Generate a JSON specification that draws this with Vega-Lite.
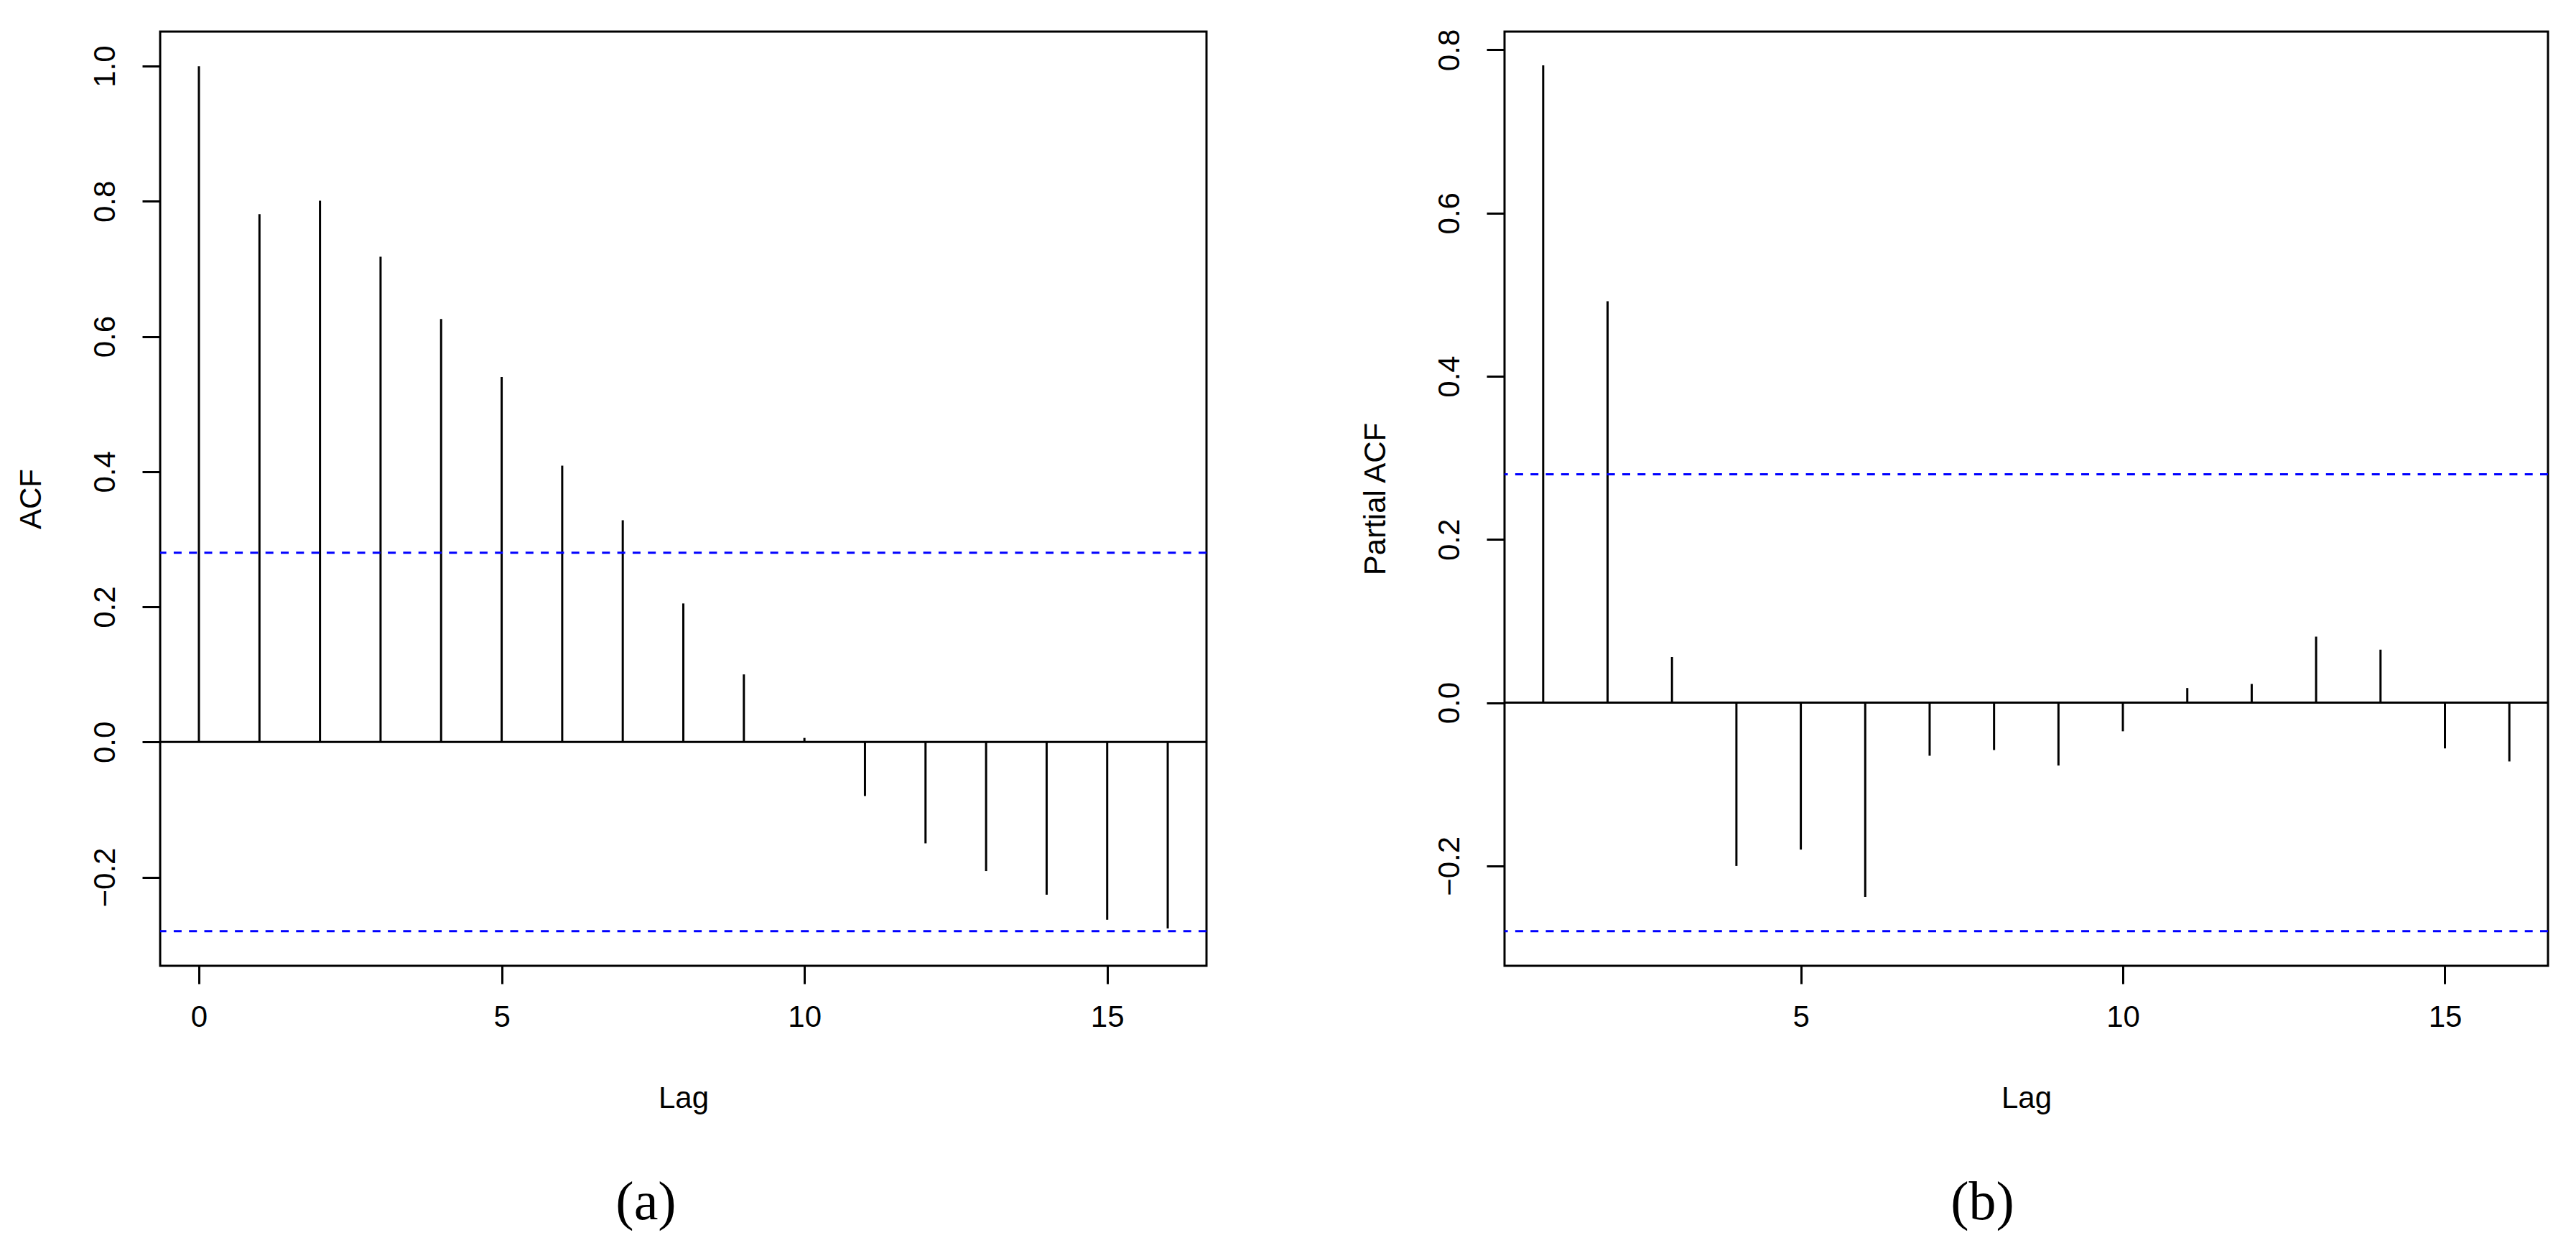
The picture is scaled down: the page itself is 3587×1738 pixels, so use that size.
{
  "$schema": "https://vega.github.io/schema/vega-lite/v6.json",
  "background": "white",
  "padding": {"left": 20, "top": 38, "right": 42, "bottom": 10},
  "bounds": "flush",
  "spacing": 415,
  "config": {
    "view": {"stroke": "black", "strokeWidth": 3},
    "axis": {
      "domain": false, "grid": false, "ticks": true,
      "tickColor": "black", "tickWidth": 3, "tickSize": 25,
      "labelFont": "Liberation Sans", "labelFontSize": 42, "labelColor": "black",
      "titleFont": "Liberation Sans", "titleFontSize": 42, "titleFontWeight": "normal", "titleColor": "black",
      "labelFlush": false, "labelOverlap": false
    },
    "axisX": {"labelPadding": 26, "titlePadding": 72},
    "axisY": {"labelAngle": -90, "labelAlign": "center", "labelBaseline": "bottom", "labelPadding": 30, "titlePadding": 60}
  },
  "hconcat": [
    {
      "width": 1457,
      "height": 1301,
      "title": {"text": "(a)", "orient": "bottom", "font": "Liberation Serif", "fontSize": 76, "fontWeight": "normal", "color": "black", "dx": -52, "offset": 88},
      "layer": [
        {
          "data": {"values": [
            {"lag": 0, "acf": 1.0}, {"lag": 1, "acf": 0.781}, {"lag": 2, "acf": 0.801}, {"lag": 3, "acf": 0.718},
            {"lag": 4, "acf": 0.626}, {"lag": 5, "acf": 0.540}, {"lag": 6, "acf": 0.409}, {"lag": 7, "acf": 0.328},
            {"lag": 8, "acf": 0.205}, {"lag": 9, "acf": 0.100}, {"lag": 10, "acf": 0.006}, {"lag": 11, "acf": -0.080},
            {"lag": 12, "acf": -0.150}, {"lag": 13, "acf": -0.191}, {"lag": 14, "acf": -0.226}, {"lag": 15, "acf": -0.263},
            {"lag": 16, "acf": -0.276}
          ]},
          "mark": {"type": "rule", "color": "black", "strokeWidth": 3},
          "encoding": {
            "x": {"field": "lag", "type": "quantitative", "title": "Lag",
                  "scale": {"domain": [-0.64, 16.64], "nice": false, "zero": false},
                  "axis": {"values": [0, 5, 10, 15], "format": "d"}},
            "y": {"field": "acf", "type": "quantitative", "title": "ACF",
                  "scale": {"domain": [-0.3312, 1.0512], "nice": false, "zero": false},
                  "axis": {"values": [-0.2, 0, 0.2, 0.4, 0.6, 0.8, 1.0], "format": ".1f"}},
            "y2": {"datum": 0}
          }
        },
        {
          "data": {"values": [{"level": 0}]},
          "mark": {"type": "rule", "color": "black", "strokeWidth": 3},
          "encoding": {"y": {"field": "level", "type": "quantitative", "title": "ACF"}}
        },
        {
          "data": {"values": [{"bound": 0.28}, {"bound": -0.28}]},
          "mark": {"type": "rule", "color": "#0000ff", "strokeWidth": 3, "strokeDash": [11, 10.3]},
          "encoding": {"y": {"field": "bound", "type": "quantitative", "title": "ACF"}}
        }
      ]
    },
    {
      "width": 1453,
      "height": 1301,
      "title": {"text": "(b)", "orient": "bottom", "font": "Liberation Serif", "fontSize": 76, "fontWeight": "normal", "color": "black", "dx": -61, "offset": 88},
      "layer": [
        {
          "data": {"values": [
            {"lag": 1, "pacf": 0.781}, {"lag": 2, "pacf": 0.492}, {"lag": 3, "pacf": 0.056}, {"lag": 4, "pacf": -0.200},
            {"lag": 5, "pacf": -0.180}, {"lag": 6, "pacf": -0.238}, {"lag": 7, "pacf": -0.065}, {"lag": 8, "pacf": -0.058},
            {"lag": 9, "pacf": -0.077}, {"lag": 10, "pacf": -0.035}, {"lag": 11, "pacf": 0.018}, {"lag": 12, "pacf": 0.023},
            {"lag": 13, "pacf": 0.081}, {"lag": 14, "pacf": 0.065}, {"lag": 15, "pacf": -0.056}, {"lag": 16, "pacf": -0.072}
          ]},
          "mark": {"type": "rule", "color": "black", "strokeWidth": 3},
          "encoding": {
            "x": {"field": "lag", "type": "quantitative", "title": "Lag",
                  "scale": {"domain": [0.4, 16.6], "nice": false, "zero": false},
                  "axis": {"values": [5, 10, 15], "format": "d"}},
            "y": {"field": "pacf", "type": "quantitative", "title": "Partial ACF",
                  "scale": {"domain": [-0.3224, 0.8224], "nice": false, "zero": false},
                  "axis": {"values": [-0.2, 0, 0.2, 0.4, 0.6, 0.8], "format": ".1f"}},
            "y2": {"datum": 0}
          }
        },
        {
          "data": {"values": [{"level": 0}]},
          "mark": {"type": "rule", "color": "black", "strokeWidth": 3},
          "encoding": {"y": {"field": "level", "type": "quantitative", "title": "Partial ACF"}}
        },
        {
          "data": {"values": [{"bound": 0.28}, {"bound": -0.28}]},
          "mark": {"type": "rule", "color": "#0000ff", "strokeWidth": 3, "strokeDash": [11, 10.3]},
          "encoding": {"y": {"field": "bound", "type": "quantitative", "title": "Partial ACF"}}
        }
      ]
    }
  ]
}
